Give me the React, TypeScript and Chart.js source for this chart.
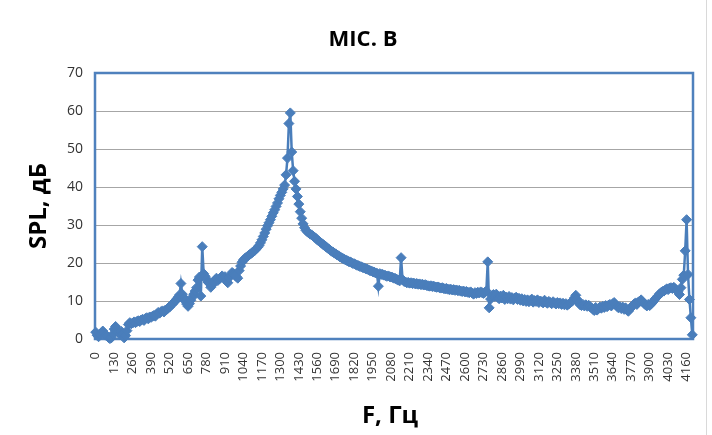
import { useEffect, useRef } from "react";
import { Chart, registerables } from "chart.js";

Chart.register(...registerables);

// Frequency step between successive measurements (Hz)
const FREQ_STEP_HZ = 10;

// SPL values (dB), one per frequency bin 0, 10, 20, ... 4200 Hz
const splValues: number[] = [
  1.8, 1.0, 0.6, 1.2, 1.6, 2.1, 1.5, 1.0, 0.8, 0.4,
  0.1, 0.3, 1.2, 2.6, 3.3, 2.4, 1.8, 1.2, 2.0, 1.4,
  0.3, 0.9, 2.2, 3.8, 4.3, 4.0, 4.2, 4.5, 4.3, 4.6,
  4.8, 4.6, 5.0, 5.2, 4.9, 5.4, 5.6, 5.3, 5.8, 5.7,
  6.0, 6.2, 6.0, 6.6, 7.0, 6.8, 7.2, 7.4, 7.1, 7.6,
  7.8, 8.1, 8.4, 8.9, 9.2, 9.6, 10.0, 10.5, 11.0, 11.6,
  14.6, 11.8, 10.9, 10.0, 9.2, 8.6, 9.3, 10.2, 11.0, 11.8,
  12.6, 13.5, 15.5, 16.3, 11.3, 24.3, 17.2, 16.5, 15.8, 15.0,
  14.6, 13.6, 14.2, 15.0, 15.5, 16.0, 15.4, 15.8, 16.2, 16.6,
  16.0, 16.4, 15.5, 14.8, 16.2, 16.8, 17.5, 17.2, 16.8, 16.4,
  16.0, 18.0, 19.2, 20.2, 20.8, 21.2, 21.5, 21.8, 22.1, 22.4,
  22.7, 23.0, 23.3, 23.7, 24.1, 24.6, 25.3, 26.1, 27.0, 27.9,
  28.9, 29.8, 30.6, 31.4, 32.3, 33.2, 34.0, 34.9, 35.8, 36.9,
  37.8, 38.6, 39.5, 40.5, 43.2, 47.6, 56.7, 59.5, 49.2, 44.3,
  41.5, 39.5, 37.5, 35.5, 33.5, 31.8, 30.3, 29.3, 28.6, 28.2,
  27.9, 27.6, 27.4, 27.1, 26.8, 26.5, 26.1, 25.8, 25.5, 25.2,
  24.9, 24.6, 24.3, 24.0, 23.7, 23.4, 23.1, 22.9, 22.6, 22.4,
  22.1, 21.9, 21.6, 21.4, 21.2, 21.0, 20.8, 20.6, 20.4, 20.3,
  20.1, 19.9, 19.8, 19.6, 19.4, 19.3, 19.1, 19.0, 18.8, 18.7,
  18.5, 18.4, 18.2, 18.0, 17.9, 17.7, 17.6, 17.4, 17.3, 13.9,
  17.2, 17.0, 17.0, 16.8, 16.7, 16.5, 16.6, 16.4, 16.3, 16.2,
  16.0, 15.9, 15.7, 15.5, 15.3, 21.4, 15.6, 15.2, 15.0, 14.8,
  14.9, 14.7, 14.8, 14.6, 14.7, 14.5, 14.6, 14.4, 14.5, 14.3,
  14.4, 14.2, 14.3, 14.1, 14.0, 13.9, 14.0, 13.8, 13.9, 13.7,
  13.6, 13.7, 13.5, 13.4, 13.5, 13.3, 13.2, 13.3, 13.1, 13.0,
  13.1, 12.9, 13.0, 12.8, 12.9, 12.7, 12.8, 12.6, 12.5, 12.6,
  12.4, 12.5, 12.3, 12.2, 12.4, 12.1, 11.8, 12.2, 12.0, 12.3,
  12.1, 12.4, 12.2, 12.0, 12.3, 12.6, 20.3, 8.2, 10.5, 11.4,
  11.7, 11.2, 11.8, 11.0, 10.6, 11.3, 10.8, 11.5, 10.4, 11.0,
  10.6, 11.2, 10.5, 10.9, 10.3, 10.8, 11.0, 10.4, 10.7, 10.2,
  10.6, 10.0, 10.4, 9.9, 10.3, 9.8, 10.2, 10.5, 9.7, 10.1,
  9.9, 10.3, 9.6, 10.0, 9.8, 9.5, 10.2, 9.7, 9.4, 9.9,
  9.6, 9.3, 9.8, 9.5, 9.2, 9.6, 9.3, 9.5, 9.1, 9.4,
  9.0, 9.3, 8.9, 9.2, 9.5, 9.8, 10.2, 10.8, 11.5, 10.4,
  9.6, 9.0, 8.8, 9.1, 8.7, 9.0, 8.6, 8.9, 8.5, 8.2,
  7.8, 7.5, 8.3, 7.6, 8.0, 8.4, 8.1, 8.6, 8.3, 8.8,
  8.5, 8.9, 9.1, 8.7, 9.3, 9.6, 9.0, 8.6, 8.2, 8.5,
  8.0, 8.4, 7.8, 8.2, 7.6, 7.3, 7.9, 8.3, 8.8, 9.2,
  9.5, 9.1, 9.7, 10.0, 10.3, 9.8, 9.4, 9.0, 8.7, 9.1,
  8.8, 9.2, 9.6, 10.1, 10.6, 11.0, 11.4, 11.9, 12.2, 12.5,
  12.6, 12.9, 13.2, 13.0, 13.4, 13.5, 13.3, 13.6, 13.2, 12.8,
  12.4, 11.7, 13.5, 15.7, 16.8, 23.2, 31.4, 17.0, 10.4, 5.6, 1.1,
];

// Category labels (Hz)
const frequencies: string[] = splValues.map((_, i) => String(i * FREQ_STEP_HZ));

// Frequencies that carry a visible tick label
const tickLabels: string[] = [
  "0", "130", "260", "390", "520", "650", "780", "910", "1040", "1170", "1300",
  "1430", "1560", "1690", "1820", "1950", "2080", "2210", "2340", "2470", "2600",
  "2730", "2860", "2990", "3120", "3250", "3380", "3510", "3640", "3770", "3900",
  "4030", "4160",
];

const Y_MIN = 0;
const Y_MAX = 70;
const Y_STEP = 10;

const TITLE = "MIC. B";
const X_TITLE = "F, Гц";
const Y_TITLE = "SPL, дБ";

const BLUE = "#4A7EBB";
const FONT = "'Open Sans', 'DejaVu Sans', sans-serif";

export default function App() {
  const canvasRef = useRef<HTMLCanvasElement | null>(null);

  useEffect(() => {
    document.body.style.margin = "0";
    const canvas = canvasRef.current;
    if (!canvas) return;
    const tickSet = new Set(tickLabels);

    const deco = {
      id: "deco",
      beforeDatasetsDraw(chart: any) {
        const { ctx, chartArea: a } = chart;
        ctx.save();
        ctx.strokeStyle = "#4F81BD";
        ctx.lineWidth = 2.5;
        ctx.strokeRect(a.left, a.top, a.right - a.left, a.bottom - a.top);
        ctx.restore();
      },
      afterDraw(chart: any) {
        const { ctx } = chart;
        ctx.save();
        ctx.fillStyle = "#000";
        ctx.textAlign = "center";
        ctx.textBaseline = "middle";
        ctx.font = `bold 22px ${FONT}`;
        ctx.fillText(TITLE, 363, 40);
        ctx.font = `bold 24px ${FONT}`;
        ctx.fillText(X_TITLE, 390, 416);
        ctx.translate(39, 206);
        ctx.rotate(-Math.PI / 2);
        ctx.fillText(Y_TITLE, 0, 0);
        ctx.restore();
        ctx.save();
        ctx.strokeStyle = "#D9D9D9";
        ctx.lineWidth = 1;
        ctx.beginPath();
        ctx.moveTo(706.5, 0);
        ctx.lineTo(706.5, 435);
        ctx.stroke();
        ctx.restore();
      },
    };

    const chart = new Chart(canvas, {
      type: "line",
      data: {
        labels: frequencies,
        datasets: [
          {
            data: splValues,
            borderColor: BLUE,
            backgroundColor: BLUE,
            borderWidth: 2.5,
            pointStyle: "rectRot",
            pointRadius: 5,
            pointBorderWidth: 1,
            pointBackgroundColor: BLUE,
            pointBorderColor: BLUE,
            tension: 0,
            clip: false as any,
          },
        ],
      },
      options: {
        animation: false,
        responsive: false,
        maintainAspectRatio: false,
        layout: { padding: { left: 0, right: 19, top: 73, bottom: 0 } },
        plugins: {
          legend: { display: false },
          title: { display: false },
          tooltip: { enabled: false },
        },
        scales: {
          x: {
            type: "category",
            offset: true,
            grid: { display: false },
            border: { display: false },
            ticks: {
              autoSkip: false,
              maxRotation: 90,
              minRotation: 90,
              padding: 5,
              color: "#333",
              font: { family: FONT, size: 13 },
              callback: function (this: any, value: any) {
                const l = this.getLabelForValue(value);
                return tickSet.has(l) ? l : null;
              },
            },
            afterFit(s: any) {
              s.height = 96;
            },
          },
          y: {
            min: Y_MIN,
            max: Y_MAX,
            ticks: {
              stepSize: Y_STEP,
              padding: 12,
              color: "#333",
              font: { family: FONT, size: 14 },
            },
            grid: { color: "#A6A6A6", lineWidth: 1, drawTicks: false },
            border: { display: false },
            afterFit(s: any) {
              s.width = 95;
            },
          },
        },
      },
      plugins: [deco],
    });

    return () => chart.destroy();
  }, []);

  return (
    <div style={{ width: 712, height: 435, background: "#fff" }}>
      <canvas ref={canvasRef} width={712} height={435} style={{ display: "block" }} />
    </div>
  );
}
